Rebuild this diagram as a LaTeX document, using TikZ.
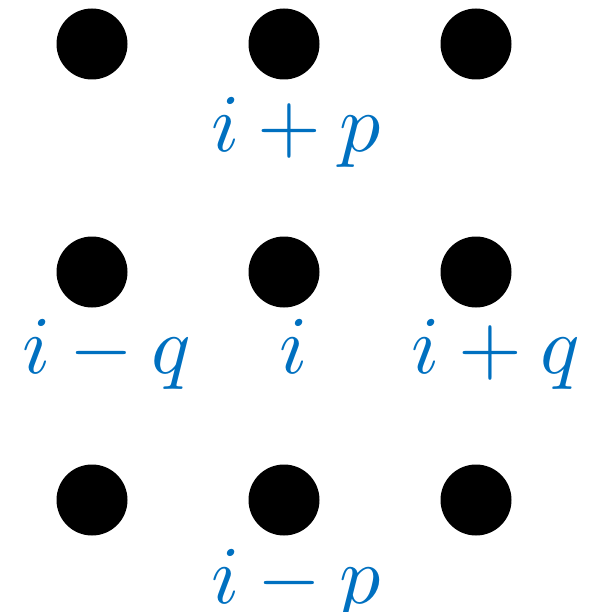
\documentclass[tikz,border=0pt]{standalone}
\definecolor{lblblue}{RGB}{0,112,192}
\begin{document}
\begin{tikzpicture}[x=1pt,y=-1pt,
  dot/.style={circle,fill=black,inner sep=0pt,minimum size=71pt},
  lbl/.style={text=lblblue,anchor=base,inner sep=0pt,scale=8.2,transform shape}]
\useasboundingbox (0,0) rectangle (602,612);
\node[dot] (d11) at (92,44) {};
\node[dot] (d12) at (284,44) {};
\node[dot] (d13) at (476,44) {};
\node[dot] (d21) at (92,272) {};
\node[dot] (d22) at (284,272) {};
\node[dot] (d23) at (476,272) {};
\node[dot] (d31) at (92,500) {};
\node[dot] (d32) at (284,500) {};
\node[dot] (d33) at (476,500) {};
\node[lbl] (lp) at (296,152) {$i+p$};
\node[lbl] (lmq) at (107,373) {$i-q$};
\node[lbl] (li) at (294,373) {$i$};
\node[lbl] (lq) at (496,373) {$i+q$};
\node[lbl] (lmp) at (296,603) {$i-p$};
\end{tikzpicture}
\end{document}
